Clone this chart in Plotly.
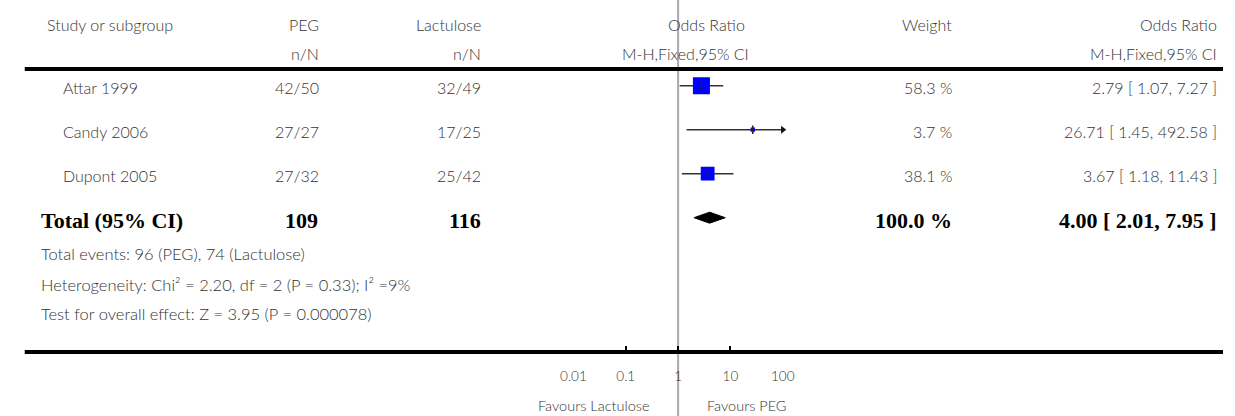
import math
import plotly.graph_objects as go

# ---------------- data ----------------
studies = ["Attar 1999", "Candy 2006", "Dupont 2005"]
peg_n = [42, 27, 27]
peg_N = [50, 27, 32]
lac_n = [32, 17, 25]
lac_N = [49, 25, 42]
weights = [58.3, 3.7, 38.1]
or_est = [2.79, 26.71, 3.67]
or_lo = [1.07, 1.45, 1.18]
or_hi = [7.27, 492.58, 11.43]

total_label = "Total (95% CI)"
total_peg_N = 109
total_lac_N = 116
total_weight = 100.0
total_est = 4.00
total_lo = 2.01
total_hi = 7.95

footer_lines = [
    "Total events: 96 (PEG), 74 (Lactulose)",
    "Heterogeneity: Chi² = 2.20, df = 2 (P = 0.33); I² =9%",
    "Test for overall effect: Z = 3.95 (P = 0.000078)",
]

tick_vals = [0.01, 0.1, 1, 10, 100]
tick_text = ["0.01", "0.1", "1", "10", "100"]
favours_left = "Favours Lactulose"
favours_right = "Favours PEG"

# ---------------- layout constants ----------------
W, H = 1235, 416
AX_MIN, AX_MAX = 0.01, 100
ROW0_PX, ROW_STEP_PX, AXIS_PX = 85.7, 44.0, 352.0
REG = "Lato"
SERIF = "Liberation Serif"
TXT = "#333333"


def xp(px):
    return px / W


def yp(py):
    return 1 - py / H


rows = list(range(len(studies)))
total_row = len(studies)

fig = go.Figure()

# CI lines (clipped to axis range)
for i in rows:
    lo = max(or_lo[i], AX_MIN)
    hi = min(or_hi[i], AX_MAX)
    fig.add_trace(go.Scatter(x=[lo, hi], y=[i, i], mode="lines",
                             line=dict(color="#333333", width=1.5),
                             hoverinfo="skip"))
    if or_hi[i] > AX_MAX:
        fig.add_trace(go.Scatter(x=[AX_MAX], y=[i], mode="markers",
                                 cliponaxis=False,
                                 marker=dict(symbol="triangle-right", size=7,
                                             color="#111111"),
                                 hoverinfo="skip"))

# weight squares
fig.add_trace(go.Scatter(
    x=or_est, y=rows, mode="markers",
    marker=dict(symbol="square", color="#0000ff", opacity=1,
                size=[2.23 * math.sqrt(w) for w in weights],
                line=dict(width=0)),
    hoverinfo="skip"))
# point ticks
fig.add_trace(go.Scatter(
    x=or_est, y=rows, mode="markers",
    marker=dict(symbol="line-ns", size=6,
                line=dict(color="#222222", width=1.5)),
    hoverinfo="skip"))

# diamond
dh = 5.5 / ROW_STEP_PX
fig.add_trace(go.Scatter(
    x=[total_lo, total_est, total_hi, total_est, total_lo],
    y=[total_row, total_row - dh, total_row, total_row + dh, total_row],
    mode="lines", fill="toself", fillcolor="#000000",
    line=dict(color="#000000", width=1), hoverinfo="skip"))

ann = []


def add_text(text, x, y, anchor, size=16, family=REG, color=TXT, yref="paper",
             yshift=0, weight=300):
    ann.append(dict(text=text, x=x, y=y, xref="paper", yref=yref,
                    xanchor=anchor, yanchor="middle", showarrow=False,
                    yshift=yshift,
                    font=dict(family=family, size=size, color=color, weight=weight)))


# headers
add_text("Study or subgroup", xp(33), yp(24), "left")
add_text("PEG", xp(314), yp(24), "right")
add_text("n/N", xp(314), yp(54), "right")
add_text("Lactulose", xp(480), yp(24), "right")
add_text("n/N", xp(480), yp(54), "right")
add_text("Odds Ratio", xp(749), yp(24), "right")
add_text("M-H,Fixed,95% CI", xp(753), yp(54), "right")
add_text("Weight", xp(960), yp(24), "right")
add_text("Odds Ratio", xp(1231), yp(24), "right")
add_text("M-H,Fixed,95% CI", xp(1231), yp(54), "right")

# study rows
for i in rows:
    add_text(studies[i], xp(49), i, "left", yref="y", yshift=-2)
    add_text(f"{peg_n[i]}/{peg_N[i]}", xp(314), i, "right", yref="y", yshift=-2)
    add_text(f"{lac_n[i]}/{lac_N[i]}", xp(480), i, "right", yref="y", yshift=-2)
    add_text(f"{weights[i]:.1f} %", xp(960), i, "right", yref="y", yshift=-2)
    add_text(f"{or_est[i]:.2f} [ {or_lo[i]:.2f}, {or_hi[i]:.2f} ]", xp(1231), i,
             "right", yref="y", yshift=-2)

# total row
bold = dict(size=22, family=SERIF, color="#000000", yref="y", yshift=-3, weight=700)
add_text(f"{total_label}", xp(27), total_row, "left", **bold)
add_text(f"{total_peg_N}", xp(313), total_row, "right", **bold)
add_text(f"{total_lac_N}", xp(480), total_row, "right", **bold)
add_text(f"{total_weight:.1f} %", xp(960), total_row, "right", **bold)
add_text(f"{total_est:.2f} [ {total_lo:.2f}, {total_hi:.2f} ]", xp(1231),
         total_row, "right", **bold)

# footer
for line, ypx in zip(footer_lines, [254, 285, 314]):
    add_text(line, xp(27), yp(ypx), "left", size=16.5)

# favours labels
add_text(favours_left, xp(651), yp(405), "right", size=14.5)
add_text(favours_right, xp(706), yp(405), "left", size=14.5)

shapes = [
    dict(type="line", xref="paper", yref="paper", x0=xp(12), x1=1,
         y0=yp(69), y1=yp(69), line=dict(color="#000000", width=4)),
    dict(type="line", xref="paper", yref="paper", x0=xp(12), x1=1,
         y0=yp(AXIS_PX), y1=yp(AXIS_PX), line=dict(color="#000000", width=4)),
    dict(type="line", xref="x", yref="paper", x0=1, x1=1, y0=0, y1=1,
         line=dict(color="#aaaaaa", width=2), layer="below"),
]

y_top = (0 - ROW0_PX) / ROW_STEP_PX
y_bot = (AXIS_PX - ROW0_PX) / ROW_STEP_PX

fig.update_layout(
    width=W, height=H,
    margin=dict(l=0, r=0, t=0, b=0),
    paper_bgcolor="white", plot_bgcolor="white",
    showlegend=False, hovermode=False,
    annotations=ann, shapes=shapes,
    xaxis=dict(type="log", range=[math.log10(AX_MIN), math.log10(AX_MAX)],
               domain=[572 / W, 785.7 / W],
               tickvals=tick_vals, ticktext=tick_text,
               ticks="inside", ticklen=6, tickwidth=2, tickcolor="#000000",
               showline=False, showgrid=False, zeroline=False,
               ticklabelstandoff=14,
               tickfont=dict(family=REG, size=13.5, color=TXT, weight=300)),
    yaxis=dict(range=[y_bot, y_top], domain=[yp(AXIS_PX), 1],
               visible=False, showgrid=False, zeroline=False),
)

fig.write_html(
    "out.html",
    config={"displayModeBar": False, "staticPlot": True},
    post_script="document.body.style.margin='0';document.body.style.padding='0';",
)
